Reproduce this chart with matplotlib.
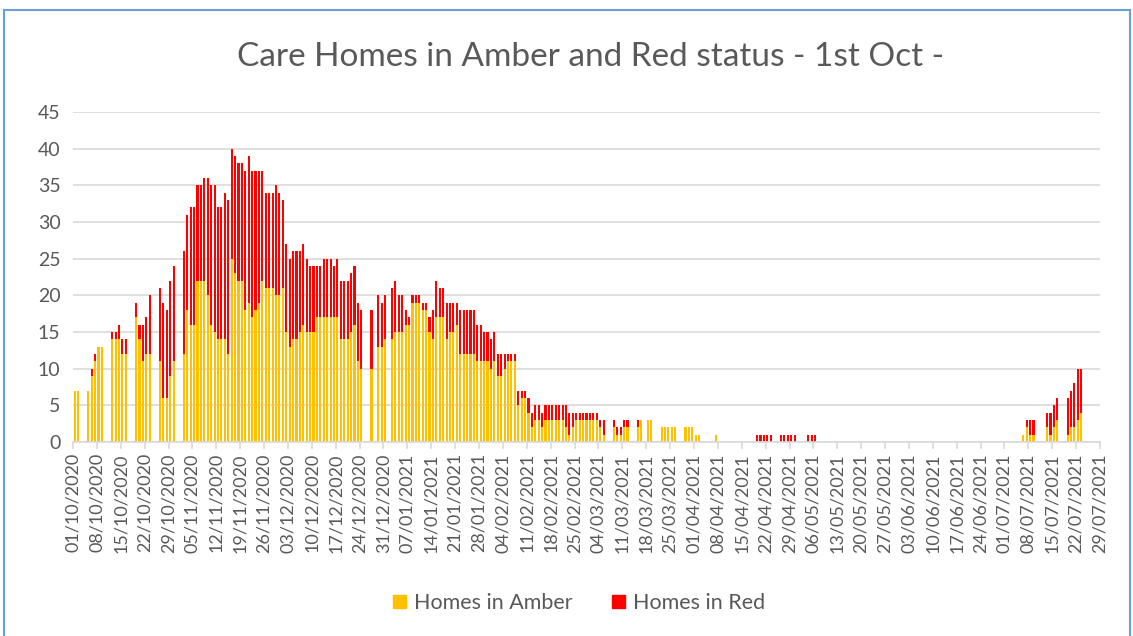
import matplotlib
matplotlib.use("Agg")
import matplotlib.pyplot as plt
from matplotlib.patches import Patch, Rectangle
import numpy as np
import pandas as pd

start_date = "2020-10-01"
n_days = 301  # 01/10/2020 .. 29/07/2021

# homes in amber, one week per row (Thu..Wed)
amber = [
    7, 7, 0, 0, 7, 9, 11,
    13, 13, 0, 0, 14, 14, 14,
    12, 12, 0, 0, 17, 14, 11,
    12, 12, 0, 0, 11, 6, 6,
    9, 11, 0, 0, 12, 18, 16,
    16, 22, 22, 22, 20, 16, 15,
    14, 14, 14, 12, 25, 23, 22,
    22, 18, 19, 17, 18, 19, 22,
    21, 21, 21, 20, 20, 21, 15,
    13, 14, 14, 15, 16, 15, 15,
    15, 17, 17, 17, 17, 17, 17,
    17, 14, 14, 14, 15, 16, 11,
    10, 0, 0, 10, 0, 13, 13,
    14, 0, 14, 15, 15, 15, 16,
    16, 19, 19, 19, 18, 18, 15,
    14, 17, 17, 17, 14, 15, 15,
    16, 12, 12, 12, 12, 12, 11,
    11, 11, 11, 10, 11, 9, 9,
    10, 11, 11, 11, 5, 6, 6,
    4, 2, 3, 3, 2, 3, 3,
    3, 3, 3, 3, 2, 1, 2,
    3, 3, 3, 3, 3, 3, 3,
    2, 1, 0, 0, 2, 1, 1,
    2, 2, 0, 0, 2, 3, 0,
    3, 3, 0, 0, 2, 2, 2,
    2, 2, 0, 0, 2, 2, 2,
    1, 1, 0, 0, 0, 0, 1,
    0, 0, 0, 0, 0, 0, 0,
    0, 0, 0, 0, 0, 0, 0,
    0, 0, 0, 0, 0, 0, 0,
    0, 0, 0, 0, 0, 0, 0,
    0, 0, 0, 0, 0, 0, 0,
    0, 0, 0, 0, 0, 0, 0,
    0, 0, 0, 0, 0, 0, 0,
    0, 0, 0, 0, 0, 0, 0,
    0, 0, 0, 0, 0, 0, 0,
    0, 0, 0, 0, 0, 0, 0,
    0, 0, 0, 0, 0, 0, 0,
    0, 0, 0, 0, 0, 0, 0,
    0, 0, 0, 0, 0, 1, 2,
    1, 1, 0, 0, 0, 2, 1,
    2, 3, 0, 0, 1, 2, 2,
    3, 4, 0, 0, 0, 0, 0,
]

# homes in red
red = [
    0, 0, 0, 0, 0, 1, 1,
    0, 0, 0, 0, 1, 1, 2,
    2, 2, 0, 0, 2, 2, 5,
    5, 8, 0, 0, 10, 13, 12,
    13, 13, 0, 0, 14, 13, 16,
    16, 13, 13, 14, 16, 19, 20,
    18, 18, 20, 21, 15, 16, 16,
    16, 19, 20, 20, 19, 18, 15,
    13, 13, 13, 15, 14, 12, 12,
    12, 12, 12, 11, 11, 10, 9,
    9, 7, 7, 8, 8, 8, 7,
    8, 8, 8, 8, 8, 8, 8,
    8, 0, 0, 8, 0, 7, 6,
    6, 0, 7, 7, 5, 5, 2,
    1, 1, 1, 1, 1, 1, 2,
    4, 5, 4, 4, 5, 4, 4,
    3, 6, 6, 6, 6, 6, 5,
    5, 4, 4, 4, 4, 3, 3,
    2, 1, 1, 1, 2, 1, 1,
    2, 2, 2, 2, 2, 2, 2,
    2, 2, 2, 2, 3, 3, 2,
    1, 1, 1, 1, 1, 1, 1,
    1, 2, 0, 0, 1, 1, 1,
    1, 1, 0, 0, 1, 0, 0,
    0, 0, 0, 0, 0, 0, 0,
    0, 0, 0, 0, 0, 0, 0,
    0, 0, 0, 0, 0, 0, 0,
    0, 0, 0, 0, 0, 0, 0,
    0, 0, 0, 0, 1, 1, 1,
    1, 1, 0, 0, 1, 1, 1,
    1, 1, 0, 0, 0, 1, 1,
    1, 0, 0, 0, 0, 0, 0,
    0, 0, 0, 0, 0, 0, 0,
    0, 0, 0, 0, 0, 0, 0,
    0, 0, 0, 0, 0, 0, 0,
    0, 0, 0, 0, 0, 0, 0,
    0, 0, 0, 0, 0, 0, 0,
    0, 0, 0, 0, 0, 0, 0,
    0, 0, 0, 0, 0, 0, 0,
    0, 0, 0, 0, 0, 0, 1,
    2, 2, 0, 0, 0, 2, 3,
    3, 3, 0, 0, 5, 5, 6,
    7, 6, 0, 0, 0, 0, 0,
]

title = "Care Homes in Amber and Red status - 1st Oct -"
amber_col = "#FFC000"
red_col = "#FF0000"
grey = "#595959"

plt.rcParams["font.family"] = ["Lato", "DejaVu Sans"]

amber = np.array(amber)
red = np.array(red)
x = np.arange(n_days) + 0.5
tick_days = np.arange(0, n_days + 1, 7)
tick_labels = pd.date_range(start_date, periods=n_days + 1, freq="D")[tick_days].strftime("%d/%m/%Y")

fig = plt.figure(figsize=(11.33, 6.36), dpi=100)
ax = fig.add_axes([0.0644, 0.305, 0.9065, 0.519])

ax.bar(x, amber, width=0.62, color=amber_col, linewidth=0, label="Homes in Amber")
ax.bar(x, red, width=0.62, bottom=amber, color=red_col, linewidth=0, label="Homes in Red")

ax.set_xlim(0, n_days)
ax.set_ylim(0, 45)
ax.set_yticks(range(0, 46, 5))
ax.set_xticks(tick_days)
ax.set_xticklabels(tick_labels, rotation=90)
ax.grid(axis="y", color="#D9D9D9", linewidth=1.2)
ax.set_axisbelow(True)
for s in ["top", "right", "left"]:
    ax.spines[s].set_visible(False)
ax.spines["bottom"].set_color("#D9D9D9")
ax.spines["bottom"].set_linewidth(1.2)
ax.tick_params(axis="x", colors="#D9D9D9", labelcolor=grey, labelsize=13, length=5, width=1.2, pad=3)
ax.tick_params(axis="y", length=0, labelcolor=grey, labelsize=14, pad=9)

fig.text(0.521, 0.91, title, ha="center", va="center", fontsize=24, color=grey)

handles = [Patch(color=amber_col, label="Homes in Amber"), Patch(color=red_col, label="Homes in Red")]
fig.legend(handles=handles, loc="center", bbox_to_anchor=(0.511, 0.052), ncol=2, frameon=False,
           fontsize=15.5, labelcolor=grey, handlelength=0.6, handleheight=0.6, handletextpad=0.4, columnspacing=1.8)

# chart border
fig.patches.append(Rectangle((4 / 1133, -0.05), 1126 / 1133, 1 - 10 / 636 + 0.05, transform=fig.transFigure,
                             fill=False, edgecolor="#6A9FD8", linewidth=1.5))

fig.savefig("out.png", dpi=100)
